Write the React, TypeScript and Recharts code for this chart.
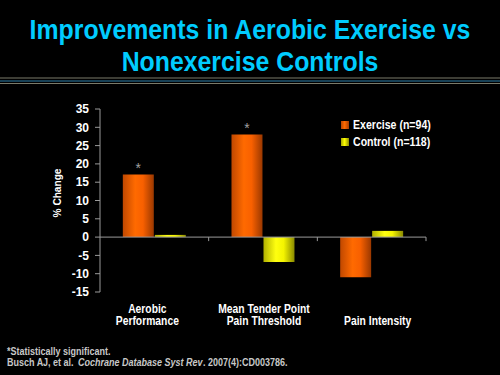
import React from "react";
import {
  BarChart,
  Bar,
  XAxis,
  YAxis,
  ReferenceLine,
  Legend,
  LabelList,
} from "recharts";

const categories = [
  ["Aerobic", "Performance"],
  ["Mean Tender Point", "Pain Threshold"],
  ["Pain Intensity"],
];
const exercise = [17.1, 28, -11];
const control = [0.6, -6.8, 1.7];
const significant = [true, true, false];
const yTicks = [-15, -10, -5, 0, 5, 10, 15, 20, 25, 30, 35];

const seriesNames = ["Exercise (n=94)", "Control (n=118)"];

const FONT = '"Liberation Sans", Arial, sans-serif';

const data = categories.map((lines, i) => ({
  name: lines.join(" "),
  exercise: exercise[i],
  control: control[i],
}));

// small horizontal nudges so the labels sit like the slide's text boxes
const labelShift = [-7, 1, 6];

const CategoryTick = (props: any) => {
  const { x, y, payload, index } = props;
  const i = payload.index ?? index;
  const lines: string[] = categories[i] || [payload.value];
  const offset = 2 - lines.length;
  return (
    <g transform={`translate(${x + (labelShift[i] || 0)},${y}) scale(0.86,1)`}>
      {lines.map((l, k) => (
        <text
          key={k}
          x={0}
          y={13 + (k + offset) * 12}
          textAnchor="middle"
          fill="#ffffff"
          fontFamily={FONT}
          fontWeight="bold"
          fontSize={12}
        >
          {l}
        </text>
      ))}
    </g>
  );
};

const ZeroLine = (props: any) => {
  const { x1, x2, y1 } = props;
  const n = categories.length;
  const step = (x2 - x1) / n;
  return (
    <g>
      <line x1={x1} x2={x2} y1={y1} y2={y1} stroke="#9a9a9a" strokeWidth={1} />
      {categories.map((_, i) => (
        <line
          key={i}
          x1={x1 + step * (i + 1)}
          x2={x1 + step * (i + 1)}
          y1={y1}
          y2={y1 + 4}
          stroke="#9a9a9a"
          strokeWidth={1}
        />
      ))}
    </g>
  );
};

const Star = (props: any) => {
  const { x, y, width, index } = props;
  if (!significant[index]) return null;
  return (
    <text
      x={x + width / 2}
      y={y - 2}
      textAnchor="middle"
      fill="#a0a0a0"
      fontFamily={FONT}
      fontSize={14}
    >
      *
    </text>
  );
};

const LegendBox = () => (
  <div style={{ fontFamily: FONT, fontWeight: "bold", fontSize: 12, color: "#fff" }}>
    {seriesNames.map((s, i) => (
      <div key={s} style={{ display: "flex", alignItems: "center", height: 17 }}>
        <div
          style={{
            width: 8,
            height: 8,
            marginRight: 4,
            background:
              i === 0
                ? "linear-gradient(90deg,#b84400,#ff6a00 45%,#a83c00)"
                : "linear-gradient(90deg,#a8a800,#ffff00 45%,#8c8c00)",
          }}
        />
        <span style={{ display: "inline-block", transform: "scaleX(0.88)", transformOrigin: "left center", whiteSpace: "nowrap" }}>
          {s}
        </span>
      </div>
    ))}
  </div>
);

const Note = ({ x, y, italic, children }: any) => (
  <g transform={`translate(${x},${y}) scale(0.9,1)`}>
    <text x={0} y={0} fontStyle={italic ? "italic" : undefined}>
      {children}
    </text>
  </g>
);

export default function App() {
  return (
    <div
      style={{
        position: "absolute",
        left: 0,
        top: 0,
        width: 500,
        height: 375,
        background: "#000",
        overflow: "hidden",
      }}
    >
      <BarChart
        width={500}
        height={375}
        data={data}
        margin={{ top: 109, right: 74, bottom: 43, left: 60 }}
        barCategoryGap="21%"
        barGap={1}
      >
        <defs>
          <linearGradient id="gOrange" x1="0" y1="0" x2="1" y2="0">
            <stop offset="0%" stopColor="#c04800" />
            <stop offset="40%" stopColor="#ff6a00" />
            <stop offset="65%" stopColor="#f86000" />
            <stop offset="100%" stopColor="#9a3800" />
          </linearGradient>
          <linearGradient id="gYellow" x1="0" y1="0" x2="1" y2="0">
            <stop offset="0%" stopColor="#b0b000" />
            <stop offset="40%" stopColor="#ffff10" />
            <stop offset="65%" stopColor="#f4f400" />
            <stop offset="100%" stopColor="#8a8a00" />
          </linearGradient>
        </defs>
        <XAxis
          dataKey="name"
          axisLine={false}
          tickLine={false}
          height={40}
          interval={0}
          tick={<CategoryTick />}
        />
        <YAxis
          width={40}
          domain={[-15, 35]}
          ticks={yTicks}
          interval={0}
          axisLine={{ stroke: "#9a9a9a" }}
          tickLine={{ stroke: "#9a9a9a" }}
          tickSize={5}
          tickMargin={6}
          tick={{ fill: "#fff", fontFamily: FONT, fontWeight: "bold", fontSize: 12 }}
        />
        <ReferenceLine y={0} shape={<ZeroLine />} />
        <Legend
          layout="horizontal"
          verticalAlign="middle"
          align="center"
          content={<LegendBox />}
          wrapperStyle={{ position: "absolute", left: 341, top: 116, width: 130 }}
        />
        <Bar dataKey="exercise" name={seriesNames[0]} fill="url(#gOrange)" isAnimationActive={false}>
          <LabelList dataKey="exercise" content={<Star />} />
        </Bar>
        <Bar dataKey="control" name={seriesNames[1]} fill="url(#gYellow)" isAnimationActive={false} />
      </BarChart>
      <svg
        width={500}
        height={375}
        style={{ position: "absolute", left: 0, top: 0, pointerEvents: "none" }}
      >
        <g fontFamily={FONT} fontWeight="bold" fill="#00ccff" fontSize={27} textAnchor="middle">
          <g transform="translate(250,39) scale(0.92,1)">
            <text x={0} y={0}>Improvements in Aerobic Exercise vs</text>
          </g>
          <g transform="translate(250,71) scale(0.92,1)">
            <text x={0} y={0}>Nonexercise Controls</text>
          </g>
        </g>
        <line x1={0} x2={500} y1={78} y2={78} stroke="#7a7a6a" strokeWidth={1} />
        <line x1={0} x2={500} y1={81} y2={81} stroke="#2f80aa" strokeWidth={1} />
        <line x1={0} x2={500} y1={83.5} y2={83.5} stroke="#7a7a6a" strokeWidth={1} />
        <g transform="translate(61,193) rotate(-90) scale(0.92,1)">
          <text
            x={0}
            y={0}
            textAnchor="middle"
            fill="#fff"
            fontFamily={FONT}
            fontWeight="bold"
            fontSize={11}
          >
            % Change
          </text>
        </g>
        <g fontFamily={FONT} fontWeight="bold" fill="#c8c8c8" fontSize={10}>
          <Note x={7} y={354.5}>*Statistically significant.</Note>
          <Note x={7} y={365.5}>Busch AJ, et al.</Note>
          <Note x={78} y={365.5} italic>
            Cochrane Database Syst Rev
          </Note>
          <Note x={203} y={365.5}>. 2007(4):CD003786.</Note>
        </g>
      </svg>
    </div>
  );
}
